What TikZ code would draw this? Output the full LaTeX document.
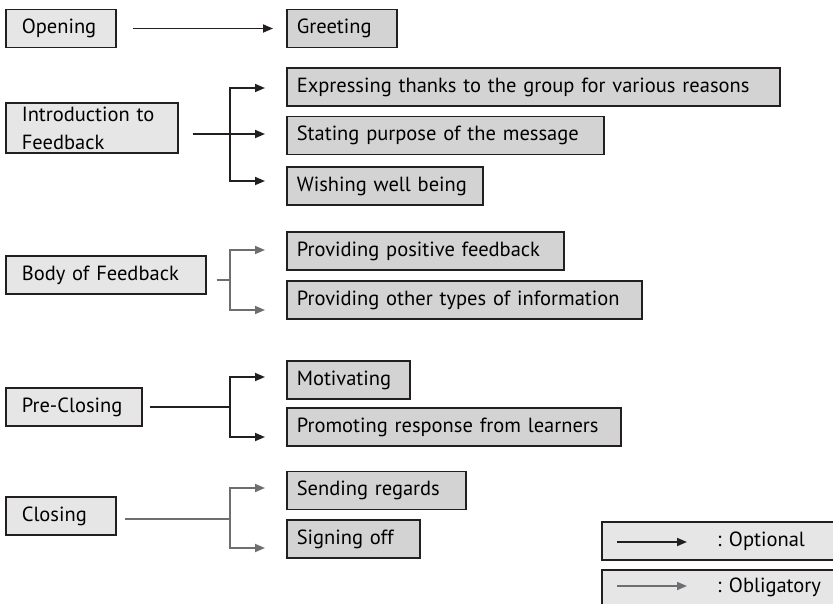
\documentclass[tikz,border=0pt]{standalone}
\usepackage{fontspec}
\setmainfont{PT Sans}
\usetikzlibrary{arrows.meta}
\definecolor{leftfill}{HTML}{E6E6E6}
\definecolor{rightfill}{HTML}{D3D3D3}
\definecolor{edge}{HTML}{231F20}
\definecolor{oblgray}{HTML}{6D6E71}

\begin{document}
\begin{tikzpicture}[
        x=1pt, y=-1pt,
        every node/.style={font=\fontsize{20.5}{28}\selectfont},
        lbox/.style={draw=edge, fill=leftfill, line width=1.6pt, minimum height=38pt, inner xsep=16pt, anchor=west, align=left, text width=#1},
        rbox/.style={draw=edge, fill=rightfill, line width=1.6pt, minimum height=38pt, inner xsep=10pt, anchor=west, align=left, text width=#1},
        opt/.style={draw=edge, line width=1.7pt},
        obl/.style={draw=oblgray, line width=1.7pt},
        tip/.style={-{Triangle[length=10pt,width=8pt]}}
    ]

    \useasboundingbox (0,0) rectangle (833,604);
    \clip (0,0) rectangle (833,604);

    \node[lbox=78pt] (open) at (5,28.5) {Opening};
    \node[rbox=90pt] (greet) at (286,28.5) {Greeting};

    \node[lbox=140pt] (intro) at (5,128) {Introduction to\\Feedback};
    \node[rbox=473pt] (thanks) at (286,87) {Expressing thanks to the group for various reasons};
    \node[rbox=297pt] (purpose) at (286,135.5) {Stating purpose of the message};
    \node[rbox=176pt] (wish) at (286,186) {Wishing well being};

    \node[lbox=168pt] (body) at (5,275) {Body of Feedback};
    \node[rbox=257pt] (positive) at (286,251) {Providing positive feedback};
    \node[rbox=335pt] (other) at (286,300) {Providing other types of information};

    \node[lbox=104pt] (preclose) at (5,407) {Pre-Closing};
    \node[rbox=103pt] (motiv) at (286,380) {Motivating};
    \node[rbox=314pt] (promo) at (286,427) {Promoting response from learners};

    \node[lbox=78pt] (closing) at (5,516) {Closing};
    \node[rbox=159pt] (regards) at (286,490.5) {Sending regards};
    \node[rbox=113pt] (signoff) at (286,539) {Signing off};

    \node[lbox=227pt] (legopt) at (601,541) {};
    \node[lbox=227pt] (legobl) at (601,589) {};
    \node[anchor=west, inner sep=0pt] (optlabel) at (717,541) {: Optional};
    \node[anchor=west, inner sep=0pt] (obllabel) at (717,587) {: Obligatory};

    \draw[opt,tip] ([xshift=16pt]open.east) -- ([xshift=-13pt]greet.west);

    \coordinate (introfork) at (230,134);
    \draw[opt,tip] ([xshift=14pt]intro.east |- introfork) -- ([xshift=-21pt]purpose.west |- introfork);
    \draw[opt,tip] (introfork) |- ([xshift=-21pt,yshift=-1pt]thanks.west);
    \draw[opt,tip] (introfork) |- ([xshift=-21pt,yshift=5pt]wish.west);

    \coordinate (bodyfork) at (230,280);
    \draw[obl] ([xshift=10pt]body.east |- bodyfork) -- (bodyfork);
    \draw[obl,tip] (bodyfork) |- ([xshift=-21pt,yshift=1pt]positive.west);
    \draw[obl,tip] (bodyfork) |- ([xshift=-21pt,yshift=-10pt]other.west);

    \coordinate (preclosefork) at (230,407);
    \draw[opt] ([xshift=7pt]preclose.east) -- (preclosefork);
    \draw[opt,tip] (preclosefork) |- ([xshift=-21pt,yshift=3pt]motiv.west);
    \draw[opt,tip] (preclosefork) |- ([xshift=-21pt,yshift=-10pt]promo.west);

    \coordinate (closingfork) at (230,519);
    \draw[obl] ([xshift=8pt]closing.east |- closingfork) -- (closingfork);
    \draw[obl,tip] (closingfork) |- ([xshift=-21pt,yshift=2.5pt]regards.west);
    \draw[obl,tip] (closingfork) |- ([xshift=-21pt,yshift=-9pt]signoff.west);

    \draw[opt,tip] ([xshift=16pt,yshift=-1pt]legopt.west) -- ++(70,0);
    \draw[obl,tip] ([xshift=16pt,yshift=3pt]legobl.west) -- ++(70,0);

\end{tikzpicture}
\end{document}
